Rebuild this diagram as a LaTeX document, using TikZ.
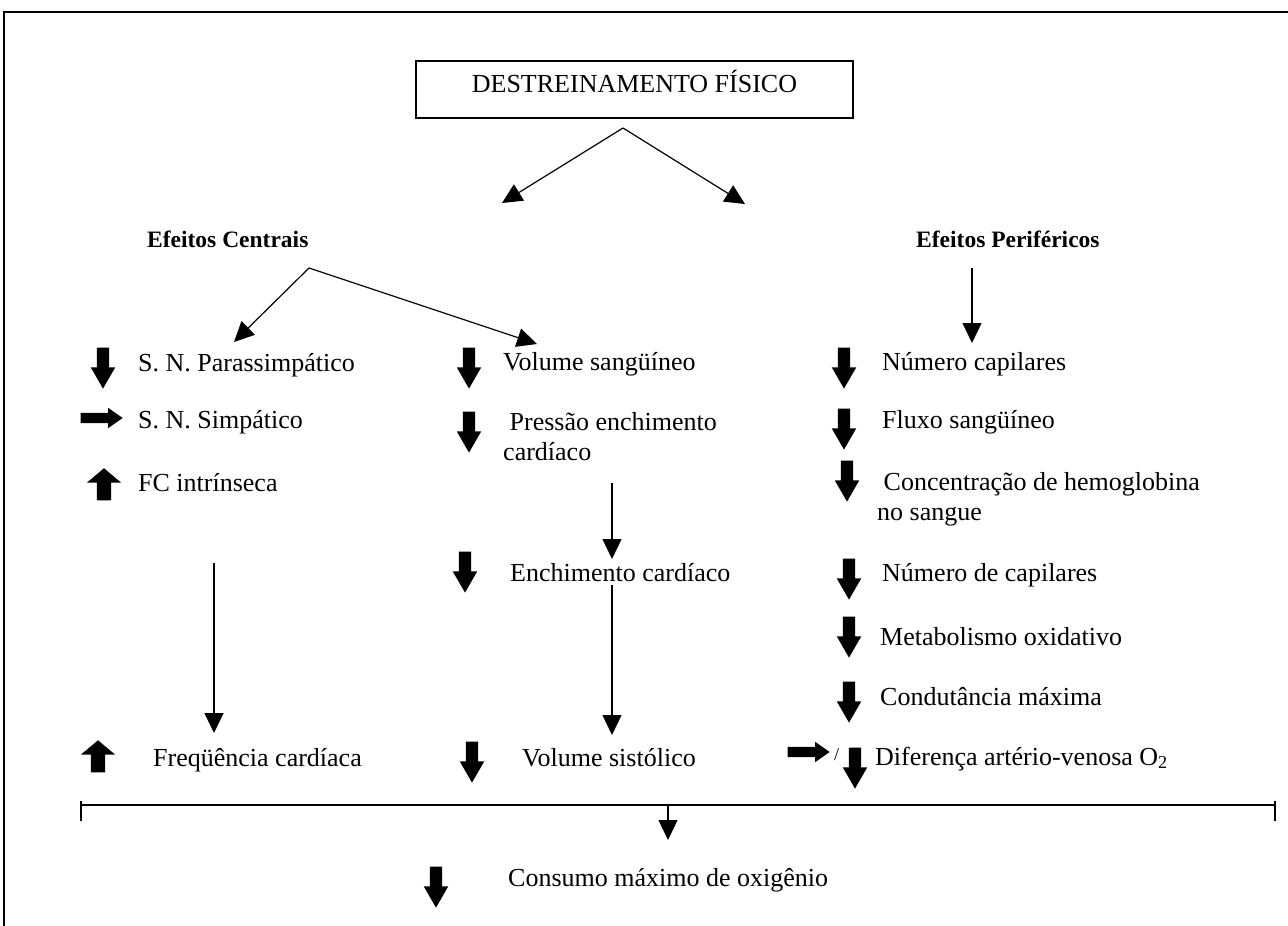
\documentclass[tikz,border=0pt]{standalone}
\usepackage{fontspec}
\setmainfont{Liberation Serif}
\usetikzlibrary{arrows.meta,shapes.arrows}

\tikzset{
  lbl/.style={anchor=base west,inner sep=0pt,font=\fontsize{26}{30}\selectfont},
  head/.style={anchor=base west,inner sep=0pt,font=\fontsize{23.5}{28}\selectfont\bfseries},
  fio/.style={line width=1.2pt,-{Triangle[length=20pt,width=19pt]}},
  arrowdown/.style={single arrow,fill=black,draw=none,inner sep=6pt,minimum height=41pt,
    single arrow head extend=6pt,single arrow tip angle=60,rotate=-90,anchor=tip},
  arrowup/.style={single arrow,fill=black,draw=none,inner sep=7pt,minimum height=32pt,
    single arrow head extend=10pt,single arrow tip angle=100,rotate=90,anchor=tip},
  arrowright/.style={single arrow,fill=black,draw=none,inner sep=5pt,minimum height=42pt,
    single arrow head extend=5pt,single arrow tip angle=70,anchor=tip}
}

\begin{document}
\begin{tikzpicture}[x=1pt,y=-1pt]
\useasboundingbox (0,0) rectangle (1288,926);
\draw[line width=1.5pt] (4,12) rectangle (1300,940);

% topo
\node[draw,line width=1.2pt,minimum width=437pt,text height=27pt,text depth=22pt,inner sep=4pt,
  font=\fontsize{26}{30}\selectfont] (titulo) at (634.5,89.5) {DESTREINAMENTO FÍSICO};
\coordinate (split) at (623,128);
\coordinate (tipC) at (502,203);
\coordinate (tipP) at (745,204);
\draw[fio] (split) -- (tipC);
\draw[fio] (split) -- (tipP);

\node[head] (centrais) at (147,247) {Efeitos Centrais};
\node[head] (perif) at (916,247) {Efeitos Periféricos};

\coordinate (splitC) at (309,268);
\coordinate (tipC1) at (234,342);
\coordinate (tipC2) at (537,344);
\draw[fio] (splitC) -- (tipC1);
\draw[fio] (splitC) -- (tipC2);
\coordinate (pTop) at (972,268);
\coordinate (pBot) at (972,343);
\draw[fio] (pTop) -- (pBot);

% coluna 1
\node[arrowdown] (a1) at (103,389) {};
\node[lbl] (parass) at (138,371) {S. N. Parassimpático};
\node[arrowright] (a2) at (123,418) {};
\node[lbl] (simp) at (138,428) {S. N. Simpático};
\node[arrowup] (a3) at (104,468) {};
\node[lbl] (fci) at (138,491) {FC intrínseca};
\coordinate (fcTop) at (214,563);
\coordinate (fcBot) at (214,733);
\draw[fio] (fcTop) -- (fcBot);
\node[arrowup] (a4) at (98,740) {};
\node[lbl] (freq) at (153,766) {Freqüência cardíaca};

% coluna 2
\node[arrowdown] (b1) at (469,389) {};
\node[lbl] (vol) at (503,370) {Volume sangüíneo};
\node[arrowdown] (b2) at (469,453) {};
\node[lbl] (press) at (503,430) {\begin{tabular}[t]{@{}l@{}}~Pressão enchimento\\cardíaco\end{tabular}};
\coordinate (prTop) at (612,483);
\coordinate (prBot) at (612,559);
\draw[fio] (prTop) -- (prBot);
\node[arrowdown] (b3) at (465,593) {};
\node[lbl] (ench) at (510,581) {Enchimento cardíaco};
\coordinate (enTop) at (612,585);
\coordinate (enBot) at (612,735);
\draw[fio] (enTop) -- (enBot);
\node[arrowdown] (b4) at (472,783) {};
\node[lbl] (volsis) at (522,766) {Volume sistólico};

% coluna 3
\node[arrowdown] (c1) at (844,389) {};
\node[lbl] (ncap) at (882,370) {Número capilares};
\node[arrowdown] (c2) at (844,450) {};
\node[lbl] (fluxo) at (882,428) {Fluxo sangüíneo};
\node[arrowdown] (c3) at (847,502) {};
\node[lbl] (hemo) at (877,490) {\begin{tabular}[t]{@{}l@{}}~Concentração de hemoglobina\\no sangue\end{tabular}};
\node[arrowdown] (c4) at (849,600) {};
\node[lbl] (ncap2) at (882,581) {Número de capilares};
\node[arrowdown] (c5) at (849,658) {};
\node[lbl] (metab) at (880,645) {Metabolismo oxidativo};
\node[arrowdown] (c6) at (849,723) {};
\node[lbl] (cond) at (880,705) {Condutância máxima};
\node[arrowright] (c7) at (830,752) {};
\node[lbl,font=\fontsize{18}{20}\selectfont] (barra) at (834,760) {/};
\node[arrowdown] (c8) at (855,789) {};
\node[lbl] (dif) at (875,765) {Diferença artério-venosa O\textsubscript{2}};

% base
\coordinate (bL) at (81,805);
\coordinate (bR) at (1275,805);
\coordinate (bM) at (668,805);
\coordinate (bMt) at (668,840);
\draw[line width=1.2pt] (bL) -- (bR);
\draw[line width=1.2pt] (81,801) -- (81,821);
\draw[line width=1.2pt] (1275,801) -- (1275,821);
\draw[fio] (bM) -- (bMt);
\node[arrowdown] (d1) at (436,908) {};
\node[lbl] (consumo) at (508,886) {Consumo máximo de oxigênio};
\end{tikzpicture}
\end{document}
